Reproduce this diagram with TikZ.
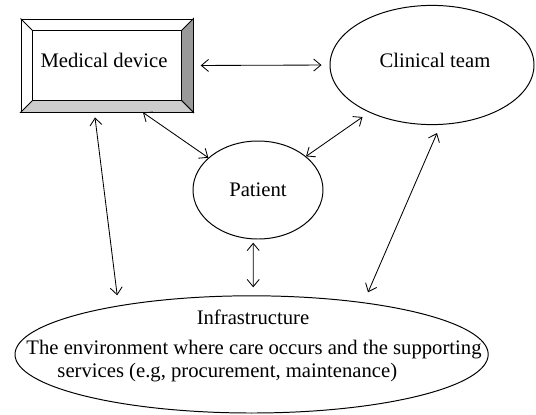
\documentclass[tikz,border=0pt]{standalone}
\usepackage{fontspec}
\setmainfont{Liberation Serif}
\usetikzlibrary{shapes.geometric,arrows.meta}
\begin{document}
\begin{tikzpicture}[scale=1,line width=0.7pt,font=\fontsize{14.7}{16.3}\selectfont,
  link/.style={{Straight Barb[length=1.8mm,width=3mm]}-{Straight Barb[length=1.8mm,width=3mm]},line width=0.6pt},
  oval/.style={draw,ellipse,inner sep=0pt}]
\useasboundingbox (0,0) rectangle (13.4,10.35);

\node (MD) at (2.675,8.7125) [draw,minimum width=4.3cm,minimum height=2.325cm,inner sep=0pt]{};
\draw[fill=gray!80] (MD.north east)--(MD.south east)--([shift={(-0.3,0.3)}]MD.south east)--([shift={(-0.3,-0.3)}]MD.north east)--cycle;
\draw[fill=gray!40] (MD.south west)--(MD.south east)--([shift={(-0.3,0.3)}]MD.south east)--([shift={(0.3,0.3)}]MD.south west)--cycle;
\draw ([shift={(0.3,-0.3)}]MD.north west) rectangle ([shift={(-0.3,0.3)}]MD.south east);
\draw (MD.north west)--([shift={(0.3,-0.3)}]MD.north west);
\node (MDlabel) at (2.6,8.85) {Medical device};

\node (CT) at (10.8,8.725) [oval,minimum width=5.1cm,minimum height=2.98cm]{};
\node (CTlabel) at (10.875,8.85) {Clinical team};
\node (PT) at (6.45,5.6) [oval,minimum width=3.25cm,minimum height=2.45cm]{Patient};
\node (IN) at (6.29,1.49) [oval,minimum width=11.83cm,minimum height=2.93cm]{};
\node (INtitle) at (6.325,2.425) {Infrastructure};
\node (INline1) at (0.65,1.6) [anchor=west,inner sep=0pt]{The environment where care occurs and the supporting};
\node (INline2) at (1.425,1.025) [anchor=west,inner sep=0pt]{services (e.g, procurement, maintenance)};

\draw[link,shorten <=0.18cm,shorten >=0.2cm] (MD.east)--(CT.west);
\draw[link] ([xshift=0.9cm]MD.south)--(PT.147);
\draw[link,shorten >=0.2cm] (PT.35)--(CT.217);
\draw[link] ([xshift=-0.3cm,yshift=-0.125cm]MD.south)--([xshift=-3.36cm]IN.north);
\draw[link] ([xshift=-0.12cm,yshift=-0.08cm]PT.south)--([xshift=0.04cm,yshift=0.2cm]IN.north);
\draw[link] ([xshift=0.125cm,yshift=-0.2cm]CT.south)--([xshift=2.91cm,yshift=0.075cm]IN.north);
\end{tikzpicture}
\end{document}
